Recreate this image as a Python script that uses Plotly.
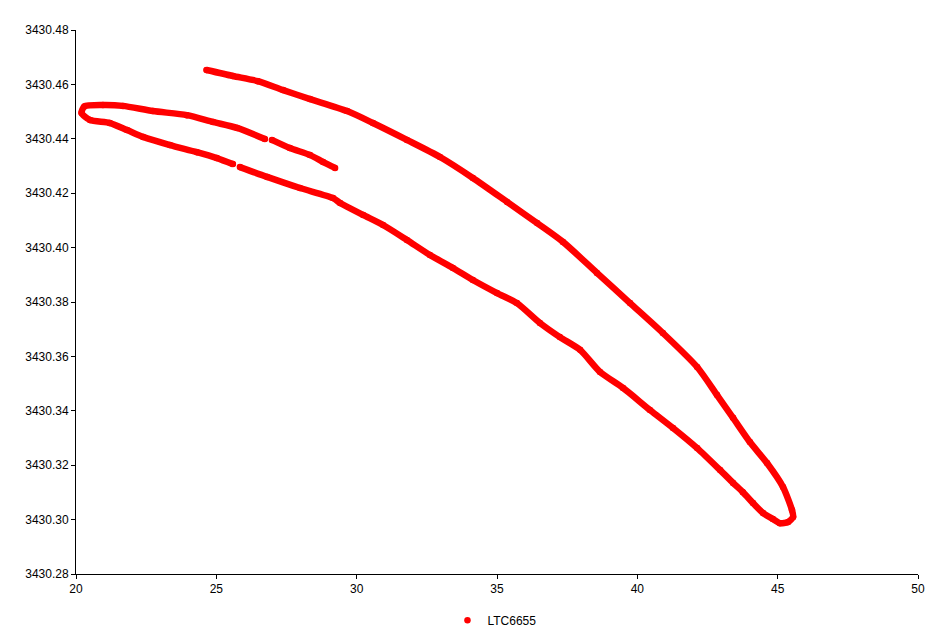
import plotly.graph_objects as go

# Data (path order; None marks gaps in the record)
temp_c = [
    24.65, 25.59, 26.48, 27.38, 28.34, 29.66, 30.58, 31.79, 32.97, 34.14,
    35.36, 36.43, 37.35, 38.56, 39.74, 40.91, 42.13, 42.84, 43.41, 44.01,
    44.62, 45.19, 45.51, 45.55, 45.37, 45.08, 44.83, 44.48, 44.12, 43.76,
    43.41, 42.95, 42.13, 41.27, 40.45, 39.49, 38.67, 37.96, 37.24, 36.53,
    35.71, 35.00, 34.14, 33.43, 32.61, 31.79, 30.94, 30.23, 29.41, 29.16,
    27.98, 26.81, 25.84, None,
    25.59, 25.02, 24.31, 23.35, 22.39, 21.82, 21.21, 20.50, 20.20, 20.30,
    20.96, 21.67, 22.74, 23.95, 24.88, 25.74, 26.73, None,
    26.98, 27.62, 28.34, 28.80, 29.23,
]
vout_v = [
    3430.4653, 3430.4631, 3430.4612, 3430.4579, 3430.4546, 3430.4502, 3430.4458, 3430.4396, 3430.4333, 3430.4256,
    3430.4168, 3430.4090, 3430.4021, 3430.3907, 3430.3796, 3430.3686, 3430.3561, 3430.3458, 3430.3374, 3430.3285,
    3430.3208, 3430.3120, 3430.3035, 3430.3010, 3430.2991, 3430.2987, 3430.3002, 3430.3024, 3430.3061, 3430.3101,
    3430.3135, 3430.3182, 3430.3263, 3430.3337, 3430.3403, 3430.3484, 3430.3543, 3430.3624, 3430.3671, 3430.3723,
    3430.3796, 3430.3833, 3430.3881, 3430.3925, 3430.3973, 3430.4028, 3430.4083, 3430.4120, 3430.4164, 3430.4182,
    3430.4219, 3430.4260, 3430.4296, None,
    3430.4307, 3430.4329, 3430.4351, 3430.4377, 3430.4407, 3430.4432, 3430.4458, 3430.4469, 3430.4495, 3430.4519,
    3430.4524, 3430.4521, 3430.4502, 3430.4487, 3430.4462, 3430.4440, 3430.4399, None,
    3430.4396, 3430.4366, 3430.4340, 3430.4315, 3430.4293,
]
series_name = "LTC6655"
x_ticks = [20, 25, 30, 35, 40, 45, 50]
y_ticks = [3430.28, 3430.30, 3430.32, 3430.34, 3430.36, 3430.38, 3430.40,
           3430.42, 3430.44, 3430.46, 3430.48]

RED = "#ff0000"
FONT = "Liberation Sans, Arial, sans-serif"

fig = go.Figure()
fig.add_trace(go.Scatter(
    x=temp_c, y=vout_v, mode="lines+markers",
    line=dict(color=RED, width=6.5, shape="spline", smoothing=0.7),
    marker=dict(color=RED, size=6),
    connectgaps=False, showlegend=False, hoverinfo="skip",
))
fig.add_trace(go.Scatter(
    x=temp_c, y=vout_v, mode="markers", name=series_name,
    marker=dict(color=RED, size=6.5), showlegend=True,
))

fig.update_layout(
    width=931, height=627,
    margin=dict(l=68, r=21, t=22, b=61, autoexpand=False),
    paper_bgcolor="white", plot_bgcolor="white",
    font=dict(family=FONT, size=12, color="black"),
    legend=dict(orientation="h", x=0.497, xanchor="center", y=-0.085, yanchor="middle",
                font=dict(family=FONT, size=12, color="black"),
                itemwidth=30),
    xaxis=dict(range=[20, 50], tickvals=x_ticks, ticktext=[str(v) for v in x_ticks],
               showgrid=False, zeroline=False, showline=True, linecolor="black", linewidth=1,
               ticks="outside", ticklen=4, tickcolor="black",
               tickfont=dict(family=FONT, size=12, color="black")),
    yaxis=dict(range=[3430.28, 3430.48], tickvals=y_ticks,
               ticktext=[f"{v:.2f}" for v in y_ticks],
               showgrid=False, zeroline=False, showline=True, linecolor="black", linewidth=1,
               ticks="outside", ticklen=4, tickcolor="black",
               tickfont=dict(family=FONT, size=12, color="black")),
)

fig.write_html("out.html")
